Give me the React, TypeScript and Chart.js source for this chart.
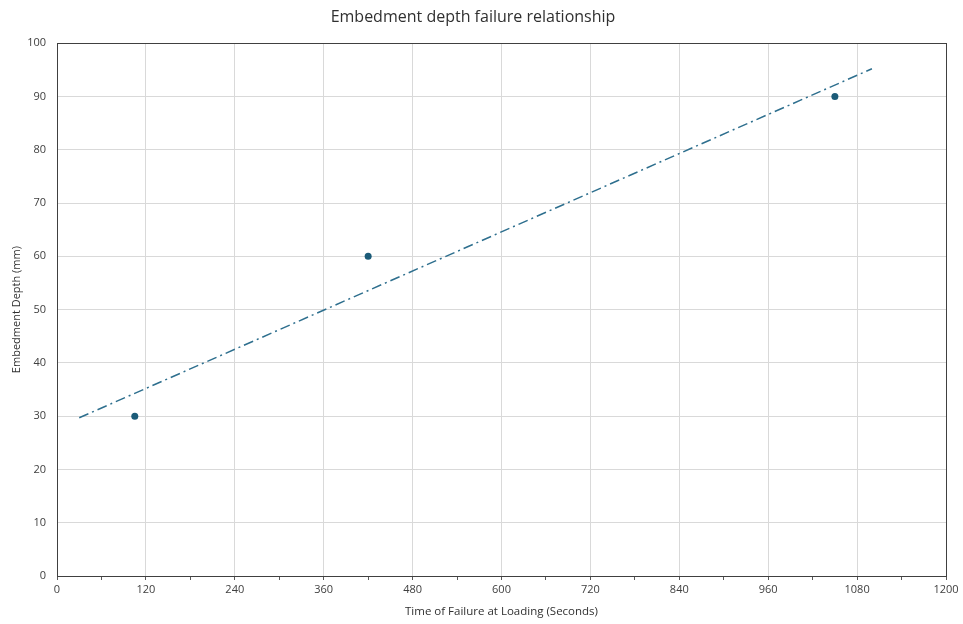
import React, { useEffect, useRef } from "react";
import { Chart, registerables } from "chart.js";

Chart.register(...registerables);

const failureTimes = [105, 420, 1050];
const embedmentDepths = [30, 60, 90];
const trendStartX = 30;
const trendEndX = 1100;
const xTickStep = 60;
const xLabelStep = 120;

const chartTitle = "Embedment depth failure relationship";
const xTitle = "Time of Failure at Loading (Seconds)";
const yTitle = "Embedment Depth (mm)";

function linearFit(xs: number[], ys: number[]) {
  const n = xs.length;
  const mx = xs.reduce((a, b) => a + b, 0) / n;
  const my = ys.reduce((a, b) => a + b, 0) / n;
  let sxy = 0;
  let sxx = 0;
  for (let i = 0; i < n; i++) {
    sxy += (xs[i] - mx) * (ys[i] - my);
    sxx += (xs[i] - mx) * (xs[i] - mx);
  }
  const slope = sxy / sxx;
  return { slope, intercept: my - slope * mx };
}

const FONT = "'Open Sans', 'Noto Sans', sans-serif";

const framePlugin = {
  id: "frame",
  afterDatasetsDraw(chart: any) {
    const { ctx, chartArea } = chart;
    ctx.save();
    ctx.strokeStyle = "#404040";
    ctx.lineWidth = 1;
    ctx.strokeRect(
      Math.round(chartArea.left) + 0.5,
      Math.round(chartArea.top) + 0.5,
      Math.round(chartArea.right - chartArea.left),
      Math.round(chartArea.bottom - chartArea.top)
    );
    ctx.restore();
  },
};

export default function App() {
  const ref = useRef<HTMLCanvasElement | null>(null);

  useEffect(() => {
    if (!ref.current) return;
    const fit = linearFit(failureTimes, embedmentDepths);
    const trend = [trendStartX, trendEndX].map((x) => ({
      x,
      y: fit.intercept + fit.slope * x,
    }));
    const points = failureTimes.map((x, i) => ({ x, y: embedmentDepths[i] }));

    const chart = new Chart(ref.current, {
      type: "scatter",
      data: {
        datasets: [
          {
            label: "Trendline",
            data: trend,
            showLine: true,
            borderColor: "#2E6F8E",
            borderWidth: 1.5,
            borderDash: [10, 4, 2, 4],
            pointRadius: 0,
            fill: false,
          },
          {
            label: "Data",
            data: points,
            pointRadius: 3.5,
            pointBackgroundColor: "#1B5B78",
            pointBorderColor: "#1B5B78",
            pointBorderWidth: 0,
          },
        ],
      },
      options: {
        animation: false,
        responsive: false,
        maintainAspectRatio: false,
        layout: { padding: { left: 0, right: 17, top: 0, bottom: 0 } },
        plugins: {
          legend: { display: false },
          tooltip: { enabled: false },
          title: {
            display: true,
            text: chartTitle,
            color: "#303030",
            font: { family: FONT, size: 16, weight: "normal" },
            padding: { top: 8, bottom: 16 },
          },
        },
        scales: {
          x: {
            type: "linear",
            min: 0,
            max: 1200,
            afterFit: (s: any) => {
              s.height = 48;
            },
            ticks: {
              stepSize: xTickStep,
              autoSkip: false,
              maxRotation: 0,
              padding: 3,
              color: "#404040",
              font: { family: FONT, size: 11 },
              callback: (v: any) => (Number(v) % xLabelStep === 0 ? String(v) : ""),
            },
            grid: {
              color: (c: any) =>
                c.tick && c.tick.value % xLabelStep === 0 ? "#d9d9d9" : "rgba(0,0,0,0)",
              tickColor: "#595959",
              tickLength: 4,
              drawTicks: true,
            },
            border: { color: "#404040", width: 1 },
            title: {
              display: true,
              text: xTitle,
              color: "#303030",
              font: { family: FONT, size: 11.5 },
              padding: { top: 0, bottom: 5 },
            },
          },
          y: {
            type: "linear",
            min: 0,
            max: 100,
            afterFit: (s: any) => {
              s.width = 57;
            },
            ticks: {
              stepSize: 10,
              padding: 11,
              color: "#404040",
              font: { family: FONT, size: 11 },
            },
            grid: {
              color: "#d9d9d9",
              drawTicks: false,
            },
            border: { color: "#404040", width: 1 },
            title: {
              display: true,
              text: yTitle,
              color: "#303030",
              font: { family: FONT, size: 11 },
              padding: { top: 10, bottom: 0 },
            },
          },
        },
      },
      plugins: [framePlugin],
    });
    return () => chart.destroy();
  }, []);

  return (
    <div
      style={{
        position: "fixed",
        left: 0,
        top: 0,
        width: 963,
        height: 624,
        background: "#ffffff",
      }}
    >
      <canvas ref={ref} width={963} height={624} style={{ width: 963, height: 624 }} />
    </div>
  );
}
